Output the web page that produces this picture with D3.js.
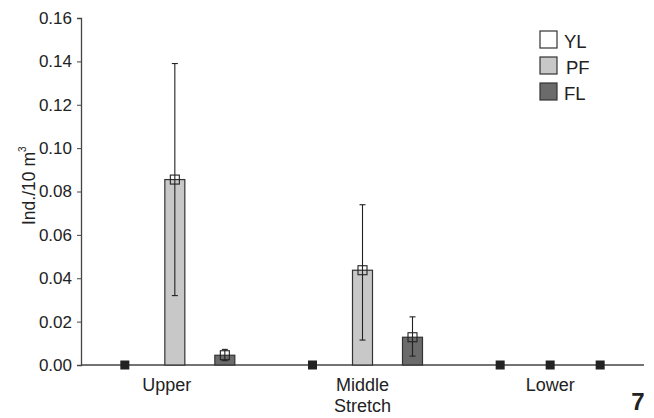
<!DOCTYPE html>
<html>
<head>
<meta charset="utf-8">
<script src="https://cdn.jsdelivr.net/npm/d3@7"></script>
<style>
  body { margin: 0; background: #fff; }
  text { font-family: "Liberation Sans", Arial, sans-serif; }
</style>
</head>
<body>
<svg id="chart" width="654" height="418"></svg>
<script>
// Stretches along the river and life stages
const stretches = ["Upper", "Middle", "Lower"];
const stages = ["YL", "PF", "FL"];
// Mean densities (Ind./10 m3) per stretch, one array per stage
const valuesYL = [0, 0, 0];
const valuesPF = [0.0855, 0.0437, 0];
const valuesFL = [0.0045, 0.0128, 0];
// Error bar bounds (low / high) per stretch
const errLowPF = [0.032, 0.0115, 0];
const errHighPF = [0.139, 0.0739, 0];
const errLowFL = [0.0020, 0.0041, 0];
const errHighFL = [0.0072, 0.0222, 0];
const yTicks = [0, 0.02, 0.04, 0.06, 0.08, 0.10, 0.12, 0.14, 0.16];

const svg = d3.select("#chart");
const plotLeft = 81, plotRight = 644, plotTop = 18, plotBottom = 365;

const x = d3.scaleBand().domain(stretches).range([plotLeft, plotRight]).padding(0);
const xi = d3.scalePoint().domain(stages).range([-50, 50]);
const y = d3.scaleLinear().domain([0, 0.16]).range([plotBottom, plotTop]);

const fills = { YL: "#ffffff", PF: "#c8c8c8", FL: "#6b6b6b" };
const stroke = "#333";
const barW = 20;

// Axes
const yAxis = d3.axisLeft(y).tickValues(yTicks).tickFormat(d3.format(".2f")).tickSize(4).tickPadding(5);
const gy = svg.append("g").attr("transform", `translate(${plotLeft},0)`).call(yAxis);
gy.select(".domain").attr("stroke", "#444").attr("stroke-width", 1.3);
gy.selectAll(".tick line").attr("stroke", "#444");
gy.selectAll(".tick text").attr("font-size", 17).attr("fill", "#222")
  .attr("font-family", "Liberation Sans, Arial, sans-serif");

svg.append("line").attr("x1", plotLeft).attr("x2", plotRight).attr("y1", y(0)).attr("y2", y(0))
  .attr("stroke", "#444").attr("stroke-width", 1.3);

// Build records
const records = [];
stretches.forEach((s, i) => {
  records.push({ s, st: "YL", v: valuesYL[i], lo: null, hi: null });
  records.push({ s, st: "PF", v: valuesPF[i], lo: errLowPF[i], hi: errHighPF[i] });
  records.push({ s, st: "FL", v: valuesFL[i], lo: errLowFL[i], hi: errHighFL[i] });
});
const cx = d => x(d.s) + x.bandwidth() / 2 + xi(d.st);

// Bars
const nonZero = records.filter(d => d.v > 0);
svg.selectAll("rect.bar").data(nonZero).enter().append("rect")
  .attr("x", d => cx(d) - barW / 2).attr("width", barW)
  .attr("y", d => y(d.v)).attr("height", d => y(0) - y(d.v))
  .attr("fill", d => fills[d.st]).attr("stroke", stroke).attr("stroke-width", 1.2);

// Error bars
const errs = nonZero.filter(d => d.hi != null);
const eg = svg.selectAll("g.err").data(errs).enter().append("g").attr("stroke", "#222").attr("stroke-width", 1.1);
eg.append("line").attr("x1", cx).attr("x2", cx).attr("y1", d => y(d.lo)).attr("y2", d => y(d.hi));
eg.append("line").attr("x1", d => cx(d) - 3).attr("x2", d => cx(d) + 3).attr("y1", d => y(d.hi)).attr("y2", d => y(d.hi));
eg.append("line").attr("x1", d => cx(d) - 3).attr("x2", d => cx(d) + 3).attr("y1", d => y(d.lo)).attr("y2", d => y(d.lo));

// Mean markers: open squares on bars
svg.selectAll("rect.mk").data(nonZero).enter().append("rect")
  .attr("x", d => cx(d) - 4.5).attr("y", d => y(d.v) - 4.5).attr("width", 9).attr("height", 9)
  .attr("fill", "none").attr("stroke", "#222").attr("stroke-width", 1.1);

// Zero values: filled squares on the baseline
const zeros = records.filter(d => d.v === 0);
svg.selectAll("rect.zero").data(zeros).enter().append("rect")
  .attr("x", d => cx(d) - 4.5).attr("y", d => y(d.v) - 4.5).attr("width", 9).attr("height", 9)
  .attr("fill", "#222");

// Category labels
const labelText = { Upper: ["Upper"], Middle: ["Middle", "Stretch"], Lower: ["Lower"] };
const labelShift = { Upper: -8, Middle: 0, Lower: 0 };
stretches.forEach(s => {
  labelText[s].forEach((t, k) => {
    svg.append("text").attr("x", x(s) + x.bandwidth() / 2 + labelShift[s]).attr("y", 390.5 + k * 21)
      .attr("text-anchor", "middle").attr("font-size", 18).attr("fill", "#222").text(t);
  });
});

// Y axis title
const yt = svg.append("text").attr("transform", "translate(35,225) rotate(-90)")
  .attr("text-anchor", "start").attr("font-size", 17.5).attr("fill", "#222");
yt.append("tspan").text("Ind./10 m");
yt.append("tspan").attr("font-size", 10).attr("dy", -9).text("3");

// Legend
const lg = svg.append("g");
stages.forEach((st, i) => {
  const yy = 31 + i * 26;
  lg.append("rect").attr("x", 540).attr("y", yy).attr("width", 17).attr("height", 17)
    .attr("fill", fills[st]).attr("stroke", "#333").attr("stroke-width", 1.2);
  lg.append("text").attr("x", 564 + (st === "PF" ? 2 : 0)).attr("y", yy + 16.5)
    .attr("font-size", 18.5).attr("fill", "#222").text(st);
});

// Panel number
svg.append("text").attr("x", 638).attr("y", 410).attr("text-anchor", "middle")
  .attr("font-size", 24).attr("font-weight", "bold").attr("fill", "#222").text("7");
</script>
</body>
</html>
